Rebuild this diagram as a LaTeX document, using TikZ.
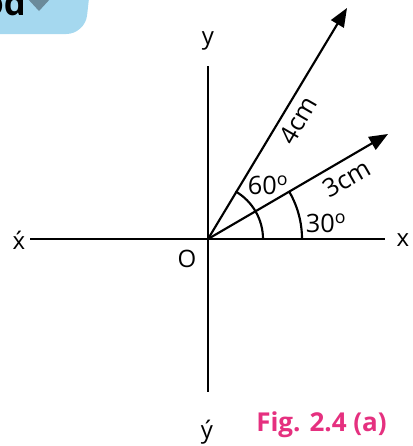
\documentclass[tikz,border=0pt]{standalone}
\usepackage{fontspec}
\setmainfont{Open Sans}
\usetikzlibrary{arrows.meta}
\definecolor{figpink}{HTML}{E5307F}
\definecolor{tabblue}{HTML}{A5D8EF}
\definecolor{tabtri}{HTML}{6B8A9A}
\tikzset{
  axis/.style={line width=1.6pt, black},
  vec/.style={line width=1.6pt, black, -{Triangle[length=14pt,width=11pt]}},
  anglearc/.style={line width=1.6pt, black},
  lbl/.style={font=\fontsize{18}{20}\selectfont, inner sep=0pt},
  numlbl/.style={font=\fontsize{19}{21}\selectfont, inner sep=0pt},
}
\begin{document}
\begin{tikzpicture}[x=0.75pt,y=-0.75pt]
\useasboundingbox (0,0) rectangle (412,446);
% top-left tab
\fill[tabblue, rounded corners=14pt] (-20,-20) -- (91,-20) -- (85,34) -- (-20,34) -- cycle;
\node[font=\bfseries\fontsize{26}{28}\selectfont, anchor=base east, inner sep=0pt] (tab) at (26,15) {od};
\fill[tabtri] (27,-2) -- (51,-2) -- (39,11) -- cycle;
% axes
\coordinate (O) at (208,239);
\coordinate (xr) at (385,239);
\coordinate (xl) at (30,239);
\coordinate (yt) at (208,66);
\coordinate (yb) at (208,392);
\coordinate (A) at (347,8);
\coordinate (B) at (388,134);
\draw[axis] (xl) -- (xr);
\draw[axis] (yt) -- (yb);
% vectors
\draw[vec] (O) -- (A);
\draw[vec] (O) -- (B);
% arcs
\draw[anglearc] (263,239) arc[start angle=0, end angle=-60, radius=55];
\draw[anglearc] (302,239) arc[start angle=0, end angle=-30, radius=94];
% labels
\node[lbl] (x) at (403,240) {x};
\node[lbl] (xp) at (19,240) {\'x};
\node[lbl] (y) at (208,41) {y};
\node[lbl] (yp) at (207,432) {\'y};
\node[lbl] (o) at (187,259) {O};
\node[numlbl] (a60) at (268,185) {60\textsuperscript{o}};
\node[numlbl] (a30) at (326,223) {30\textsuperscript{o}};
\node[numlbl, rotate=30] (l3) at (347,178) {3cm};
\node[numlbl, rotate=60] (l4) at (298,120) {4cm};
\node[font=\bfseries\fontsize{19.5}{21}\selectfont, text=figpink, inner sep=0pt, anchor=base west] (fig) at (256,431) {Fig. 2.4 (a)};
\end{tikzpicture}
\end{document}
